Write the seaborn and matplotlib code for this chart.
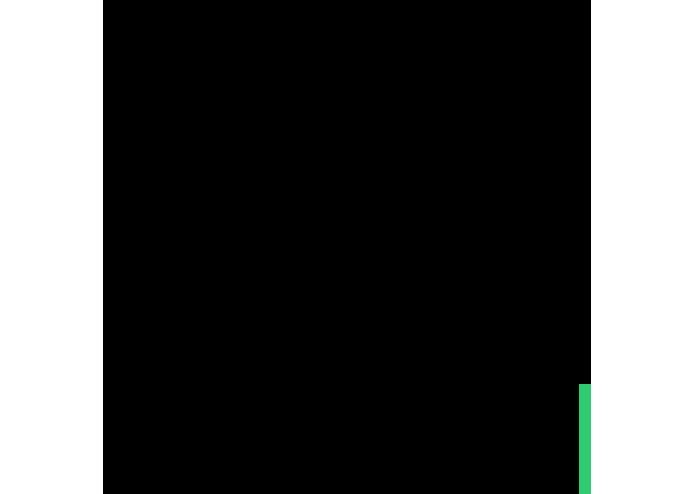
import numpy as np
import matplotlib
matplotlib.use("Agg")
import matplotlib.pyplot as plt
from matplotlib.colors import ListedColormap
import seaborn as sns

# grid of cells: 0 = empty (black), 1 = filled (green)
n_rows = 9
n_cols = 40
filled_cells = [(7, 39), (8, 39)]

grid = np.zeros((n_rows, n_cols))
for r, c in filled_cells:
    grid[r, c] = 1

fig = plt.figure(figsize=(6.95, 4.94), dpi=100)
ax = fig.add_axes([103 / 695, 0, 488 / 695, 1])
sns.heatmap(grid, ax=ax, cmap=ListedColormap(["#000000", "#2ecc71"]),
            vmin=0, vmax=1, cbar=False, linewidths=0)
ax.set_axis_off()

fig.savefig("out.png", dpi=100)
